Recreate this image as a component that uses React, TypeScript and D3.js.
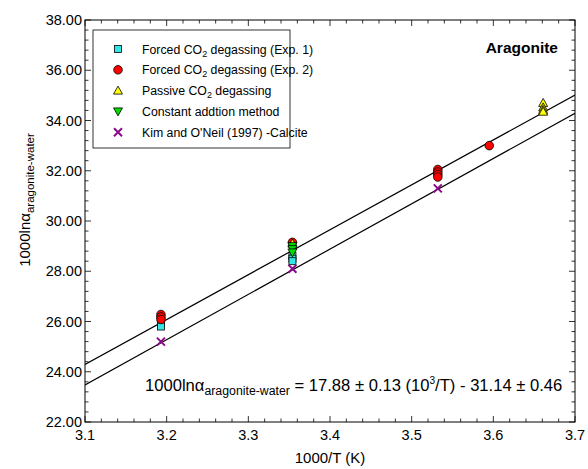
import React from "react";
import * as d3 from "d3";

// values
const exp1X = [3.193, 3.193, 3.354, 3.354, 3.354];
const exp1Y = [25.95, 25.8, 28.62, 28.5, 28.4];

const exp2X = [3.193, 3.193, 3.193, 3.354, 3.532, 3.532, 3.532, 3.532, 3.595];
const exp2Y = [26.28, 26.18, 26.08, 29.15, 32.05, 31.95, 31.85, 31.75, 33.0];

const passiveX = [3.354, 3.661, 3.661, 3.661, 3.661];
const passiveY = [29.1, 34.7, 34.52, 34.42, 34.35];

const constX = [3.354, 3.354, 3.354];
const constY = [29.0, 28.88, 28.75];

const kimX = [3.193, 3.354, 3.532];
const kimY = [25.2, 28.1, 31.3];

// regression lines: 1000lnα = slope * (1000/T) + intercept
const fitSlopes = [17.88, 18.03];
const fitIntercepts = [-31.14, -32.42];

const xTicks = [3.1, 3.2, 3.3, 3.4, 3.5, 3.6, 3.7];
const yTicks = [22, 24, 26, 28, 30, 32, 34, 36, 38];

const FONT = "Liberation Sans, Arial, sans-serif";

const margin = { left: 85, top: 20, right: 13, bottom: 47 };
const W = 588;
const H = 469;

const Marker = ({ type, x, y }: { type: string; x: number; y: number }) => {
  if (type === "square")
    return <rect x={x - 3.5} y={y - 3.5} width={7} height={7} fill="#33e6e6" stroke="#000" strokeWidth={0.8} />;
  if (type === "circle")
    return <circle cx={x} cy={y} r={4.3} fill="#ff0000" stroke="#000" strokeWidth={0.8} />;
  if (type === "up")
    return (
      <path
        d={`M${x},${y - 4.5}L${x + 4.5},${y + 3.5}L${x - 4.5},${y + 3.5}Z`}
        fill="#ffff00"
        stroke="#000"
        strokeWidth={0.8}
      />
    );
  if (type === "down")
    return (
      <path
        d={`M${x},${y + 4.5}L${x + 4.5},${y - 3.5}L${x - 4.5},${y - 3.5}Z`}
        fill="#00dd00"
        stroke="#000"
        strokeWidth={0.8}
      />
    );
  return (
    <path
      d={`M${x - 4},${y - 4}L${x + 4},${y + 4}M${x - 4},${y + 4}L${x + 4},${y - 4}`}
      stroke="#8b0a8b"
      strokeWidth={2}
      fill="none"
    />
  );
};

export default function App() {
  const x = d3.scaleLinear().domain([3.1, 3.7]).range([margin.left, W - margin.right]);
  const y = d3.scaleLinear().domain([22, 38]).range([H - margin.bottom, margin.top]);
  const [x0, x1] = x.range();
  const [y0, y1] = y.range();

  const xMinor = d3.range(3.1, 3.7001, 0.02);
  const yMinor = d3.range(22, 38.001, 0.4);

  const series = [
    { type: "square", xs: exp1X, ys: exp1Y },
    { type: "circle", xs: exp2X, ys: exp2Y },
    { type: "up", xs: passiveX, ys: passiveY },
    { type: "down", xs: constX, ys: constY },
    { type: "cross", xs: kimX, ys: kimY },
  ];

  const legendItems = [
    { type: "square", label: ["Forced CO", "2", " degassing (Exp. 1)"] },
    { type: "circle", label: ["Forced CO", "2", " degassing (Exp. 2)"] },
    { type: "up", label: ["Passive CO", "2", " degassing"] },
    { type: "down", label: ["Constant addtion method", "", ""] },
    { type: "cross", label: ["Kim and O'Neil (1997) -Calcite", "", ""] },
  ];

  return (
    <svg width={W} height={H} style={{ position: "absolute", left: 0, top: 0 }} fontFamily={FONT}>
      <rect width={W} height={H} fill="#fff" />
      <defs>
        <clipPath id="plot">
          <rect x={x0} y={y1} width={x1 - x0} height={y0 - y1} />
        </clipPath>
      </defs>

      {/* minor / major ticks on all four sides, pointing in */}
      <g stroke="#000" strokeWidth={0.8}>
        {xMinor.map((v, i) => {
          const len = i % 5 === 0 ? 6 : 3.5;
          return (
            <g key={"xm" + i}>
              <line x1={x(v)} x2={x(v)} y1={y0} y2={y0 - len} />
              <line x1={x(v)} x2={x(v)} y1={y1} y2={y1 + len} />
            </g>
          );
        })}
        {yMinor.map((v, i) => {
          const len = i % 5 === 0 ? 6 : 3.5;
          return (
            <g key={"ym" + i}>
              <line x1={x0} x2={x0 + len} y1={y(v)} y2={y(v)} />
              <line x1={x1} x2={x1 - len} y1={y(v)} y2={y(v)} />
            </g>
          );
        })}
      </g>

      {/* fit lines */}
      <g clipPath="url(#plot)">
        {fitSlopes.map((s, i) => {
          const d = d3
            .line<number>()
            .x((t) => x(t))
            .y((t) => y(s * t + fitIntercepts[i]))([3.1, 3.7]);
          return <path key={i} d={d || ""} stroke="#000" strokeWidth={1.2} fill="none" />;
        })}
      </g>

      {/* points */}
      {series.map((s) =>
        s.xs.map((v, i) => <Marker key={s.type + i} type={s.type} x={x(v)} y={y(s.ys[i])} />)
      )}

      <rect x={x0} y={y1} width={x1 - x0} height={y0 - y1} fill="none" stroke="#000" strokeWidth={1} />

      {/* tick labels */}
      {xTicks.map((v) => (
        <text key={"xt" + v} x={x(v)} y={y0 + 18} textAnchor="middle" fontSize={14.5}>
          {d3.format(".1f")(v)}
        </text>
      ))}
      {yTicks.map((v) => (
        <text key={"yt" + v} x={x0 - 3} y={y(v) + 5} textAnchor="end" fontSize={14.5}>
          {d3.format(".2f")(v)}
        </text>
      ))}

      {/* axis titles */}
      <text x={(x0 + x1) / 2} y={463} textAnchor="middle" fontSize={15}>
        1000/T (K)
      </text>
      <text transform={`translate(30,200) rotate(-90)`} textAnchor="middle" fontSize={15}>
        1000lnα
        <tspan fontSize={11.5} dy={4}>
          aragonite-water
        </tspan>
      </text>

      <text x={x1 - 17} y={53} textAnchor="end" fontSize={15.5} fontWeight="bold">
        Aragonite
      </text>

      {/* equation */}
      <text x={145} y={391} fontSize={16.6}>
        1000lnα
        <tspan fontSize={12.3} dy={4}>
          aragonite-water
        </tspan>
        <tspan dy={-4}> = 17.88 ± 0.13 (10</tspan>
        <tspan fontSize={10} dy={-7}>
          3
        </tspan>
        <tspan dy={7}>/T) - 31.14 ± 0.46</tspan>
      </text>

      {/* legend */}
      <rect x={93} y={30} width={197} height={118} fill="#fff" stroke="#000" strokeWidth={0.8} />
      {legendItems.map((it, i) => {
        const cy = 49 + i * 20.8;
        return (
          <g key={"lg" + i}>
            <Marker type={it.type} x={118} y={cy} />
            <text x={142} y={cy + 4.5} fontSize={12.3}>
              {it.label[0]}
              {it.label[1] && (
                <tspan fontSize={9} dy={3}>
                  {it.label[1]}
                </tspan>
              )}
              {it.label[2] && <tspan dy={it.label[1] ? -3 : 0}>{it.label[2]}</tspan>}
            </text>
          </g>
        );
      })}
    </svg>
  );
}
